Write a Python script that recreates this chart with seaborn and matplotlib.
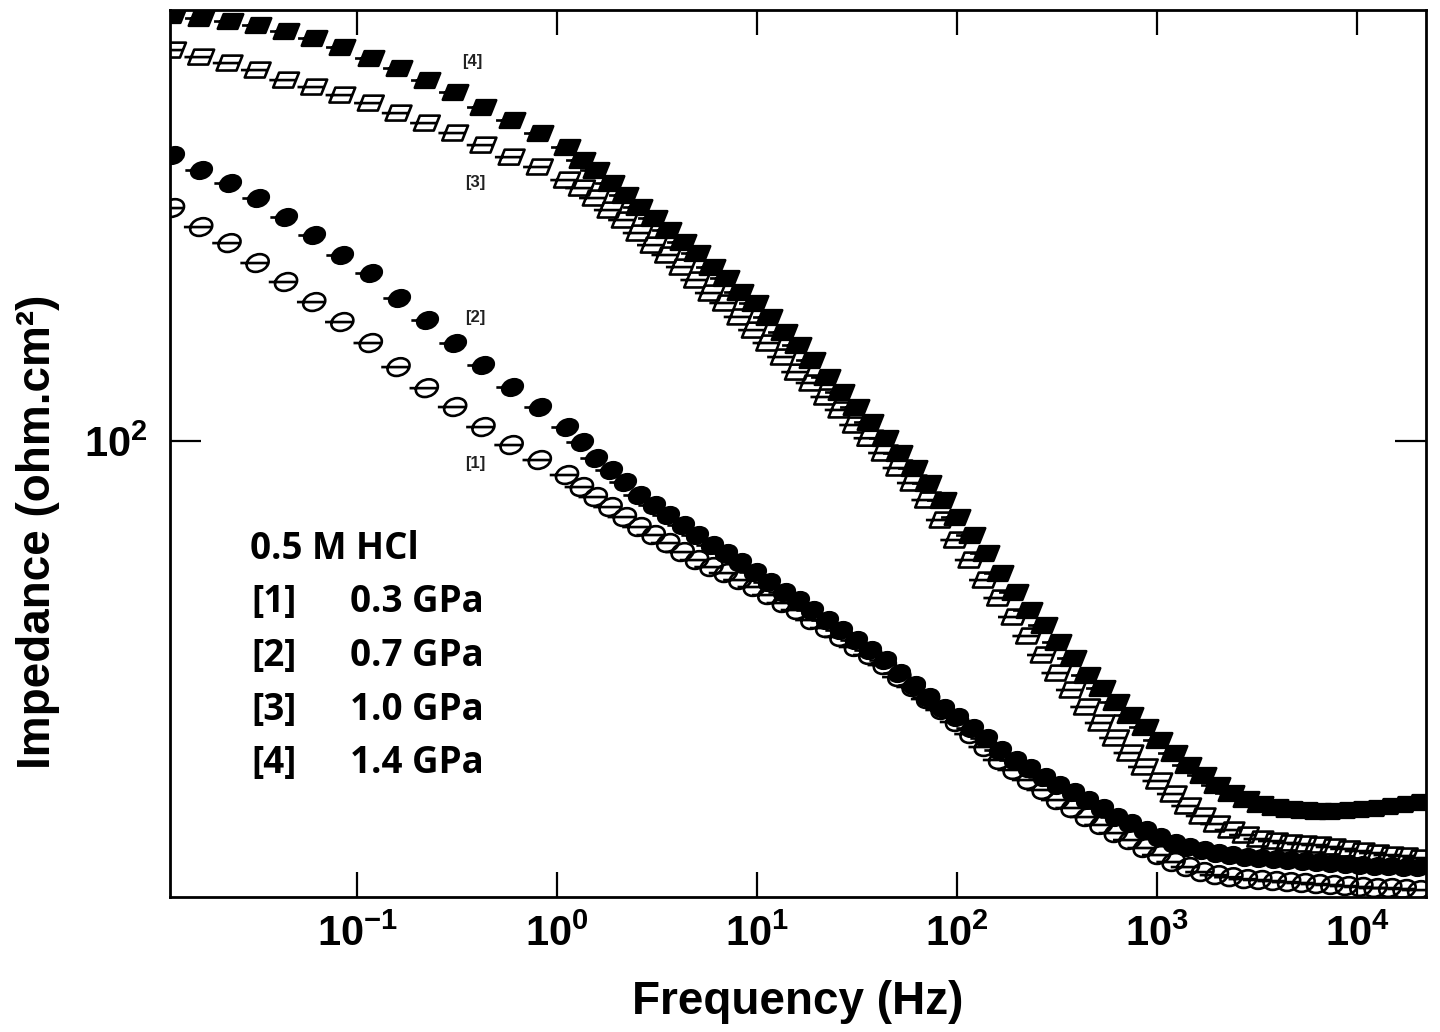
import numpy as np
import pandas as pd
import matplotlib
matplotlib.use("Agg")
import matplotlib.pyplot as plt
import seaborn as sns
from matplotlib.path import Path
from matplotlib.transforms import Affine2D
from matplotlib.ticker import NullLocator

# ---------------- data ----------------
freq_hz = [0.0120, 0.0166, 0.0230, 0.0318, 0.0441, 0.0610, 0.0843, 0.117, 0.161, 0.223, 0.309, 0.428, 0.592, 0.819,
           1.12, 1.33, 1.56, 1.85, 2.18, 2.58, 3.04, 3.59, 4.24, 5.01, 5.92, 6.99, 8.25, 9.74,
           11.5, 13.6, 16.0, 18.9, 22.4, 26.4, 31.2, 36.8, 43.5, 51.4, 60.6, 71.6, 84.6, 99.9,
           118, 139, 164, 194, 229, 271, 320, 378, 446, 527, 622, 734, 867, 1024,
           1209, 1427, 1686, 1991, 2351, 2776, 3278, 3871, 4571, 5398, 6374, 7527, 8888, 10500,
           12390, 14640, 17280, 20410]

z_03gpa = [263.3, 243.3, 227.6, 209.5, 193.6, 178.1, 163.9, 150.2, 135.9, 124.5, 115.1, 105.9, 98.27, 92.33,
           86.75, 82.52, 79.16, 75.93, 72.84, 69.88, 67.59, 65.38, 62.97, 60.91, 59.16, 57.70, 56.05, 54.45,
           52.66, 50.94, 49.48, 47.46, 45.91, 44.23, 42.43, 41.04, 39.36, 37.44, 35.93, 34.17, 32.65, 31.06,
           29.54, 27.99, 26.52, 25.44, 24.40, 23.41, 22.45, 21.72, 20.92, 20.24, 19.57, 19.01, 18.39, 17.86,
           17.35, 16.99, 16.64, 16.43, 16.29, 16.16, 16.10, 16.03, 15.96, 15.90, 15.83, 15.77, 15.70, 15.64,
           15.57, 15.57, 15.51, 15.44]

z_07gpa = [328.2, 308.4, 292.1, 274.5, 253.6, 235.3, 216.6, 200.9, 181.1, 165.3, 150.2, 137.0, 125.1, 115.1,
           105.9, 99.47, 93.10, 88.57, 84.26, 79.82, 76.57, 73.45, 70.46, 67.59, 64.84, 62.71, 60.41, 57.95,
           55.59, 53.32, 51.58, 49.48, 47.46, 45.53, 43.68, 41.90, 40.19, 38.07, 36.22, 34.46, 32.92, 31.71,
           30.29, 29.06, 27.64, 26.52, 25.65, 24.71, 23.90, 23.22, 22.45, 21.72, 20.92, 20.40, 19.82, 19.25,
           18.77, 18.47, 18.24, 18.01, 17.86, 17.71, 17.64, 17.56, 17.49, 17.42, 17.35, 17.27, 17.20, 17.13,
           17.06, 17.06, 16.99, 16.99]

z_10gpa = [507.9, 493.3, 481.2, 467.4, 448.3, 435.5, 421.2, 407.4, 390.8, 374.9, 359.7, 342.1, 325.4, 312.3,
           295.8, 286.1, 274.5, 261.1, 250.5, 237.3, 225.7, 216.6, 206.0, 195.2, 184.9, 177.4, 167.4, 158.5,
           150.2, 141.7, 133.1, 127.2, 120.0, 113.7, 106.8, 101.1, 95.06, 89.31, 83.91, 78.18, 71.94, 66.20,
           60.91, 56.05, 52.01, 48.06, 44.41, 41.04, 38.07, 35.48, 33.06, 30.93, 29.06, 27.30, 25.76, 24.30,
           23.02, 21.90, 21.01, 20.32, 19.82, 19.41, 19.09, 18.93, 18.78, 18.70, 18.62, 18.47, 18.32, 18.16,
           18.01, 17.86, 17.79, 17.64]

z_14gpa = [587.5, 580.2, 573.0, 563.6, 549.7, 533.9, 514.3, 491.3, 471.3, 448.3, 426.5, 400.6, 379.6, 359.7,
           339.3, 321.4, 308.4, 292.1, 277.9, 264.4, 252.6, 240.3, 228.6, 218.4, 206.0, 196.8, 185.6, 177.4,
           167.4, 157.2, 149.0, 139.9, 130.4, 122.5, 115.1, 108.1, 101.1, 95.06, 89.31, 83.91, 78.18, 72.84,
           67.59, 62.71, 57.70, 53.32, 49.48, 46.49, 43.32, 40.53, 37.76, 35.78, 33.75, 31.98, 30.42, 28.82,
           27.30, 25.97, 24.91, 23.90, 23.12, 22.54, 22.08, 21.81, 21.63, 21.54, 21.45, 21.45, 21.54, 21.63,
           21.72, 21.90, 22.08, 22.26]

series_tags = ["[1]", "[2]", "[3]", "[4]"]
series_names = ["0.3 GPa", "0.7 GPa", "1.0 GPa", "1.4 GPa"]
legend_title = "0.5 M HCl"
x_ticks = [0.1, 1, 10, 100, 1000, 10000]
x_ticklabels = [r"$\mathbf{10^{-1}}$", r"$\mathbf{10^{0}}$", r"$\mathbf{10^{1}}$",
                r"$\mathbf{10^{2}}$", r"$\mathbf{10^{3}}$", r"$\mathbf{10^{4}}$"]
y_ticks = [100]
y_ticklabels = [r"$\mathbf{10^{2}}$"]

# ---------------- style ----------------
sns.set_theme(style="ticks")
plt.rcParams["font.family"] = ["Liberation Sans", "DejaVu Sans"]
plt.rcParams["mathtext.fontset"] = "custom"
plt.rcParams["mathtext.rm"] = "Liberation Sans:bold"
plt.rcParams["mathtext.bf"] = "Liberation Sans:bold"
plt.rcParams["mathtext.it"] = "Liberation Sans:bold"


def make_marker(shape):
    if shape == "circle":
        body = Path.unit_circle()
        shear = Affine2D(np.array([[1.0, 0.2, 0.0], [0.0, 0.82, 0.0], [0.0, 0.0, 1.0]]))
    else:
        body = Path([(-0.95, -0.95), (0.95, -0.95), (0.95, 0.95), (-0.95, 0.95), (-0.95, -0.95)],
                    [Path.MOVETO, Path.LINETO, Path.LINETO, Path.LINETO, Path.CLOSEPOLY])
        shear = Affine2D(np.array([[1.0, 0.3, 0.0], [0.0, 0.75, 0.0], [0.0, 0.0, 1.0]]))
    body = body.transformed(shear)
    dash = Path([(-1.6, 0.0), (0.9, 0.0)], [Path.MOVETO, Path.LINETO])
    return Path.make_compound_path(body, dash)


circ = make_marker("circle")
sq = make_marker("square")

fig = plt.figure(figsize=(14.4, 10.32), dpi=100)
ax = fig.add_axes([0.1181, 0.1308, 0.8722, 0.8595])

plot_specs = [
    (z_03gpa, circ, "none", 620),
    (z_07gpa, circ, "black", 540),
    (z_10gpa, sq, "none", 580),
    (z_14gpa, sq, "black", 560),
]
for i, (vals, mk, fc, size) in enumerate(plot_specs):
    df = pd.DataFrame({"Frequency (Hz)": freq_hz, "Impedance": vals})
    sns.scatterplot(data=df, x="Frequency (Hz)", y="Impedance", marker=mk, s=size,
                    facecolor=fc, edgecolor="black", linewidth=1.9, ax=ax,
                    legend=False, zorder=3 + i)

ax.set_xscale("log")
ax.set_yscale("log")
ax.set_xlim(0.0116, 22100)
ax.set_ylim(15, 600)

ax.set_xticks(x_ticks)
ax.set_xticklabels(x_ticklabels)
ax.set_yticks(y_ticks)
ax.set_yticklabels(y_ticklabels)
ax.xaxis.set_minor_locator(NullLocator())
ax.yaxis.set_minor_locator(NullLocator())
ax.tick_params(axis="x", which="major", direction="in", length=18, width=1.6,
               top=True, bottom=True, labelsize=30, pad=13, colors="black")
ax.tick_params(axis="y", which="major", direction="in", length=22, width=1.6,
               left=True, right=True, labelsize=30, pad=16, colors="black")
for sp in ax.spines.values():
    sp.set_linewidth(2)
    sp.set_color("black")

ax.set_xlabel("Frequency (Hz)", fontsize=33, fontweight="bold", color="black")
ax.set_ylabel("Impedance (ohm.cm²)", fontsize=33, fontweight="bold", color="black")
ax.xaxis.set_label_coords(0.5, -0.093)
ax.yaxis.set_label_coords(-0.088, 0.4115)

# curve tags
tag_pos = [(0.2428, 0.4893), (0.2428, 0.6528), (0.2428, 0.8061), (0.2404, 0.9414)]
for tag, (tx, ty) in zip(series_tags, tag_pos):
    ax.text(tx, ty, tag, transform=ax.transAxes, fontsize=12, fontweight="bold",
            color="#222222", ha="center", va="center")

# in-plot legend text block
leg_font = dict(family=["Open Sans", "DejaVu Sans"], fontsize=26.5, fontweight="bold", color="black")
fig.text(250 / 1440, 1 - 559 / 1032, legend_title, ha="left", va="baseline", **leg_font)
baselines = [612, 666, 720, 773]
for tag, name, b in zip(series_tags, series_names, baselines):
    fig.text(251 / 1440, 1 - b / 1032, tag, ha="left", va="baseline", **leg_font)
    fig.text(350 / 1440, 1 - b / 1032, name, ha="left", va="baseline", **leg_font)

fig.savefig("out.png", dpi=100, facecolor="white")
